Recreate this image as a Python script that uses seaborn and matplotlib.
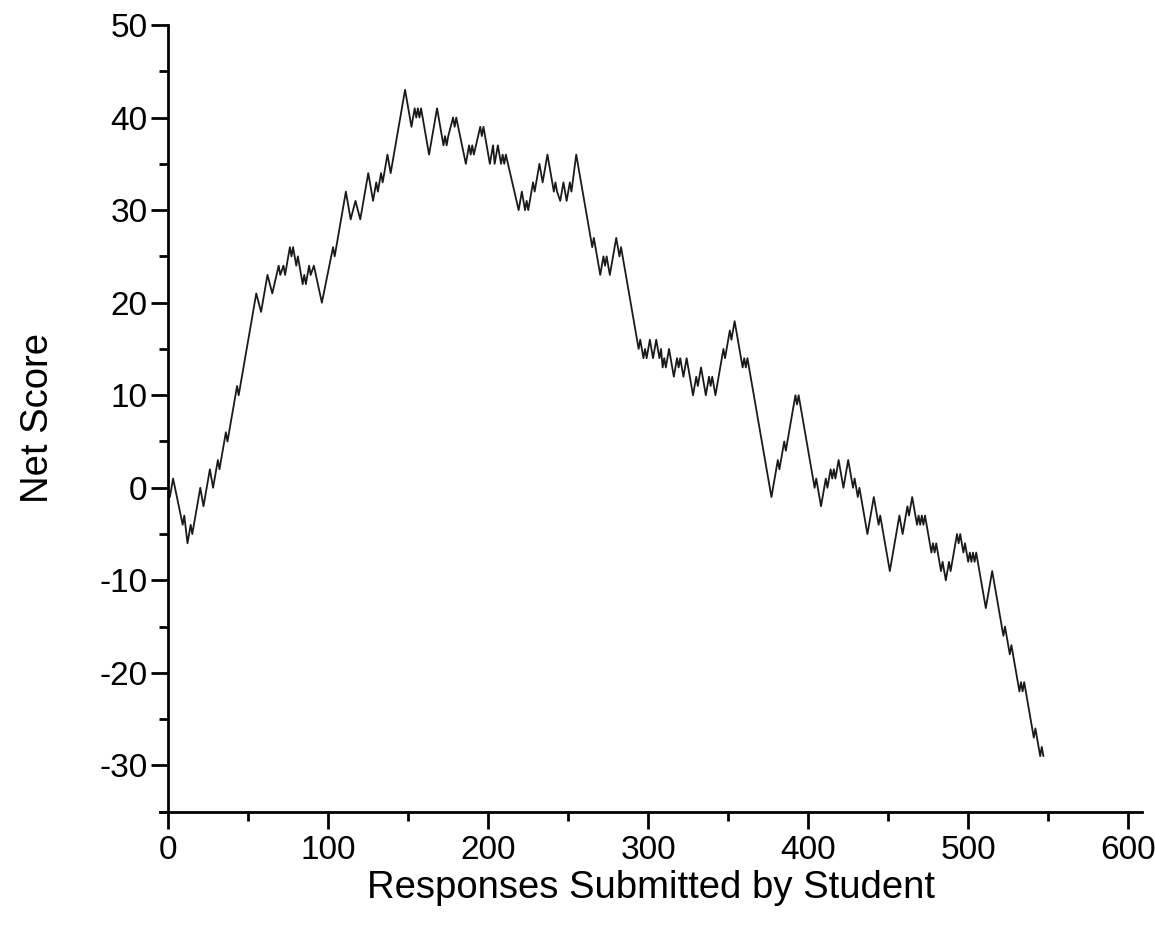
import matplotlib
matplotlib.use("Agg")
import matplotlib.pyplot as plt
from matplotlib.ticker import MultipleLocator
import seaborn as sns
import pandas as pd

# Turning points of the running net score (each response moves the score by +1 or -1)
responses = [1, 3, 9, 10, 12, 14, 15, 20, 22, 26, 28, 31, 32, 36, 37, 43, 44, 55, 58, 62,
             65, 69, 70, 72, 73, 76, 77, 78, 80, 81, 84, 85, 86, 88, 89, 91, 96, 103, 104, 111,
             114, 117, 120, 125, 128, 130, 131, 133, 134, 137, 139, 148, 152, 154, 155, 156, 157, 158, 163, 168,
             172, 173, 174, 175, 178, 179, 180, 186, 188, 189, 190, 191, 195, 196, 197, 201, 203, 204, 206, 208,
             209, 210, 211, 219, 221, 223, 224, 225, 228, 229, 232, 234, 237, 241, 242, 243, 245, 247, 249, 251,
             252, 255, 265, 266, 270, 272, 273, 274, 276, 280, 282, 283, 293, 294, 295, 297, 298, 299, 301, 303,
             305, 307, 308, 309, 310, 311, 313, 316, 318, 319, 320, 322, 324, 328, 330, 331, 333, 336, 338, 339,
             340, 342, 347, 348, 351, 352, 354, 359, 360, 361, 362, 377, 381, 382, 385, 386, 392, 393, 394, 404,
             405, 408, 411, 412, 414, 415, 416, 417, 419, 422, 425, 428, 429, 431, 432, 437, 441, 444, 445, 451,
             457, 459, 462, 463, 465, 468, 469, 470, 471, 472, 473, 477, 478, 479, 480, 483, 484, 486, 488, 489,
             493, 494, 495, 497, 498, 500, 501, 502, 503, 504, 505, 511, 515, 522, 523, 526, 527, 532, 533, 534,
             535, 541, 542, 545, 546, 547]
net_score = [-1, 1, -4, -3, -6, -4, -5, 0, -2, 2, 0, 3, 2, 6, 5, 11, 10, 21, 19, 23,
             21, 24, 23, 24, 23, 26, 25, 26, 24, 25, 22, 23, 22, 24, 23, 24, 20, 26, 25, 32,
             29, 31, 29, 34, 31, 33, 32, 34, 33, 36, 34, 43, 39, 41, 40, 41, 40, 41, 36, 41,
             37, 38, 37, 38, 40, 39, 40, 35, 37, 36, 37, 36, 39, 38, 39, 35, 37, 35, 37, 35,
             36, 35, 36, 30, 32, 30, 31, 30, 33, 32, 35, 33, 36, 32, 33, 32, 31, 33, 31, 33,
             32, 36, 26, 27, 23, 25, 24, 25, 23, 27, 25, 26, 16, 15, 16, 14, 15, 14, 16, 14,
             16, 14, 15, 13, 14, 13, 15, 12, 14, 13, 14, 12, 14, 10, 12, 11, 13, 10, 12, 11,
             12, 10, 15, 14, 17, 16, 18, 13, 14, 13, 14, -1, 3, 2, 5, 4, 10, 9, 10, 0,
             1, -2, 1, 0, 2, 1, 2, 1, 3, 0, 3, 0, 1, -1, 0, -5, -1, -4, -3, -9,
             -3, -5, -2, -3, -1, -4, -3, -4, -3, -4, -3, -7, -6, -7, -6, -9, -8, -10, -8, -9,
             -5, -6, -5, -7, -6, -8, -7, -8, -7, -8, -7, -13, -9, -16, -15, -18, -17, -22, -21, -22,
             -21, -27, -26, -29, -28, -29]

x_ticks = [0, 100, 200, 300, 400, 500, 600]
y_ticks = [-30, -20, -10, 0, 10, 20, 30, 40, 50]

df = pd.DataFrame({"Responses": responses, "Net": net_score})

sns.set_style("ticks")
plt.rcParams["font.family"] = ["Liberation Sans", "DejaVu Sans"]
plt.rcParams["axes.unicode_minus"] = False
plt.rcParams["text.color"] = "black"
plt.rcParams["axes.labelcolor"] = "black"

fig = plt.figure(figsize=(11.55, 9.30), dpi=100)
ax = fig.add_axes([0.1385, 0.1272, 0.8502, 0.8459])

sns.lineplot(data=df, x="Responses", y="Net", ax=ax, color="#1a1a1a",
             linewidth=1.3, sort=False, estimator=None)

ax.set_xlim(-5.2, 608.6)
ax.set_ylim(-35, 50)
ax.set_xticks(x_ticks)
ax.set_yticks(y_ticks)
ax.xaxis.set_minor_locator(MultipleLocator(50))
ax.yaxis.set_minor_locator(MultipleLocator(5))

for side in ("top", "right"):
    ax.spines[side].set_visible(False)
for side in ("left", "bottom"):
    ax.spines[side].set_linewidth(2.0)
    ax.spines[side].set_color("black")
# vertical axis sits at zero responses; the horizontal axis runs slightly past it
ax.spines["left"].set_position(("data", 0))

ax.tick_params(which="major", direction="out", length=12, width=2.0,
               labelsize=24, colors="black")
ax.tick_params(which="minor", direction="out", length=6.5, width=2.0, colors="black")
ax.tick_params(axis="x", which="major", pad=5)
ax.tick_params(axis="y", which="major", pad=3)

ax.set_xlabel("Responses Submitted by Student", fontsize=27.5, labelpad=3)
ax.set_ylabel("Net Score", fontsize=27.5, labelpad=31)

fig.savefig("out.png", dpi=100, facecolor="white")
